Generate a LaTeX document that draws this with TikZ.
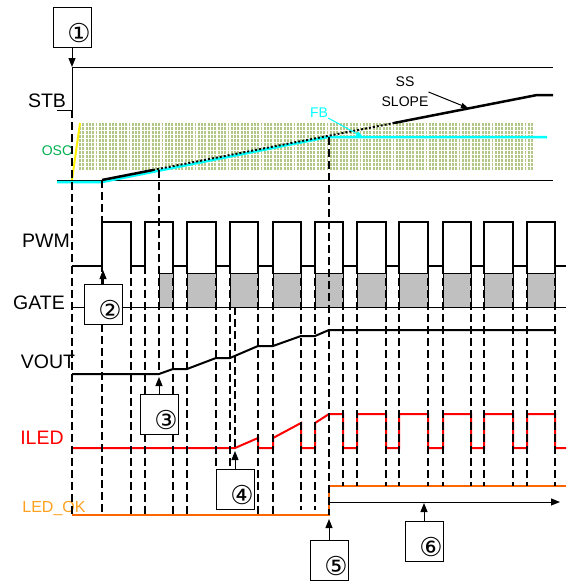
\documentclass[tikz,border=0pt]{standalone}
\usepackage{fontspec}
\setmainfont{Liberation Sans}
\newfontfamily\circfont{DejaVu Sans}
\usetikzlibrary{arrows.meta}
\definecolor{oscgreen}{RGB}{0,176,80}
\definecolor{oscband}{RGB}{178,198,134}
\definecolor{fbcyan}{RGB}{0,255,255}
\definecolor{ledorange}{RGB}{255,102,0}
\definecolor{okorange}{RGB}{255,160,32}
\definecolor{gatefill}{RGB}{192,192,192}

\begin{document}
\begin{tikzpicture}[x=1pt,y=-1pt]
		\tikzset{signame/.style = {font=\fontsize{19.5}{20}\selectfont, inner sep=0pt, anchor=base},
			smallname/.style = {font=\fontsize{14}{20}\selectfont, inner sep=0pt},
			wave/.style = {line width=2pt},
			guide/.style = {line width=2pt, dash pattern=on 8pt off 4pt},
			oscline/.style = {oscband, line width=1.9pt, dash pattern=on 3pt off 1pt},
			callbox/.style = {draw, fill=white, line width=1pt, minimum width=38pt, minimum height=40pt, inner sep=0pt, label={[circnum]center:#1}},
			circnum/.style = {font=\circfont\fontsize{26}{26}\selectfont, inner sep=0pt, xshift=7pt, yshift=-6pt},
			callarrow/.style = {line width=1pt, -{Triangle[length=9pt,width=7pt]}}}

		\useasboundingbox (0,0) rectangle (566,581);

		% signal names
		\node[signame] (STB) at (47,107) {STB};
		\node[signame] (PWM) at (46,247) {PWM};
		\node[signame] (GATE) at (39,309) {GATE};
		\node[signame] (VOUT) at (48,368) {VOUT};
		\node[signame, red] (ILED) at (42,444) {ILED};
		\node[signame, okorange, font=\fontsize{16}{20}\selectfont] (LEDOK) at (54,512) {LED\_OK};
		\node[smallname, oscgreen, anchor=base] (OSC) at (57,155) {OSC};

		% oscillator band
		\foreach \x in {80,83.3,...,533}
			\draw[oscline] (\x,123) -- (\x,170);
		\draw[yellow, line width=2pt] (72,180) -- (80,123);

		% STB window
		\draw[line width=1pt] (57,110) -- (72,110) -- (72,67) -- (553,67);
		\draw[line width=1pt] (57,180) -- (553,180);

		% FB and soft start slope
		\draw[fbcyan, line width=2.5pt] (57,182) -- (102,182) -- (328,137) -- (547,137);
		\draw[line width=2.5pt] (102,180) -- (153,170);
		\draw[line width=2pt, dotted] (153,170) -- (394,123);
		\draw[line width=2.5pt] (394,123) -- (537,95) -- (553,95);

		\node[smallname, fbcyan] (FB) at (319,113) {FB};
		\coordinate (FB_tip) at (363,137);
		\draw[fbcyan, line width=1pt, -{Triangle[length=7pt,width=5pt]}] (FB.south east) -- (FB_tip);

		\node[smallname, align=center] (SL) at (405,92) {SS\\SLOPE};
		\coordinate (SL_tip) at (468,108);
		\draw[line width=1pt, -{Triangle[length=7pt,width=5pt]}] (SL.east) -- (SL_tip);

		% PWM
		\draw[wave] (72,266) foreach \r/\f in {102/131,145/173,187/216,230/258,273/301,315/343,357/386,399/428,443/471,484/513,527/555} { -- (\r,266) -- (\r,222) -- (\f,222) -- (\f,266) } -- (566,266);

		% GATE
		\foreach \a/\b in {159/173,187/216,230/258,273/301,315/343,357/386,399/428,443/471,484/513,527/555}
			\draw[fill=gatefill, line width=0.8pt] (\a,307) rectangle (\b,273);
		\draw[line width=0.8pt] (72,307) -- (566,307);

		% VOUT
		\draw[wave] (72,374) -- (159,374) -- (173,369) -- (187,369) -- (216,358) -- (230,358) -- (258,346) -- (273,346) -- (301,336) -- (315,336) -- (329,330) -- (556,330);

		% ILED
		\draw[wave, red] (72,448) -- (235,448) -- (258,438) -- (258,448) -- (273,448) -- (273,438) -- (301,423) -- (301,448) -- (315,448) -- (315,423) -- (329,414) foreach \f/\r in {343/357,386/399,428/443,471/484,513/527} { -- (\f,414) -- (\f,448) -- (\r,448) -- (\r,414) } -- (555,414) -- (555,448) -- (566,448);

		% LED_OK
		\draw[wave, ledorange, line width=2.5pt] (72,515) -- (329,515) -- (329,486) -- (566,486);

		% timing guides
		\foreach \x/\ya/\yb in {72/110/515,102/180/515,131/266/515,145/266/515,159/170/374,173/266/515,187/266/515,216/266/469,230/266/469,235/307/448,258/266/515,273/266/515,301/266/510,315/266/510,329/137/515,343/266/486,357/266/486,386/266/486,399/266/486,428/266/486,443/266/486,471/266/486,484/266/486,513/266/486,527/266/486,555/266/486}
			\draw[guide] (\x,\ya) -- (\x,\yb);

		\coordinate (R_1) at (329,502);
		\coordinate (R_2) at (560,502);
		\draw[callarrow] (R_1) -- (R_2);

		% callouts
		\node[callbox=①] (N_1) at (72,27.5) {};
		\node[callbox=②] (N_2) at (103,304) {};
		\node[callbox=③] (N_3) at (159,414.5) {};
		\node[callbox=④] (N_4) at (235,489) {};
		\node[callbox=⑤] (N_5) at (329,560) {};
		\node[callbox=⑥] (N_6) at (424,541.5) {};

		\coordinate (T_1) at (72,67);
		\coordinate (T_2) at (103,270);
		\coordinate (T_3) at (159,377);
		\coordinate (T_4) at (235,451);
		\coordinate (T_5) at (329,519);
		\coordinate (T_6) at (424,503);

		\draw[callarrow] (N_1) -- (T_1);
		\draw[callarrow] (N_2) -- (T_2);
		\draw[callarrow] (N_3) -- (T_3);
		\draw[callarrow] (N_4) -- (T_4);
		\draw[callarrow] (N_5) -- (T_5);
		\draw[callarrow] (N_6) -- (T_6);

	\end{tikzpicture}
\end{document}
